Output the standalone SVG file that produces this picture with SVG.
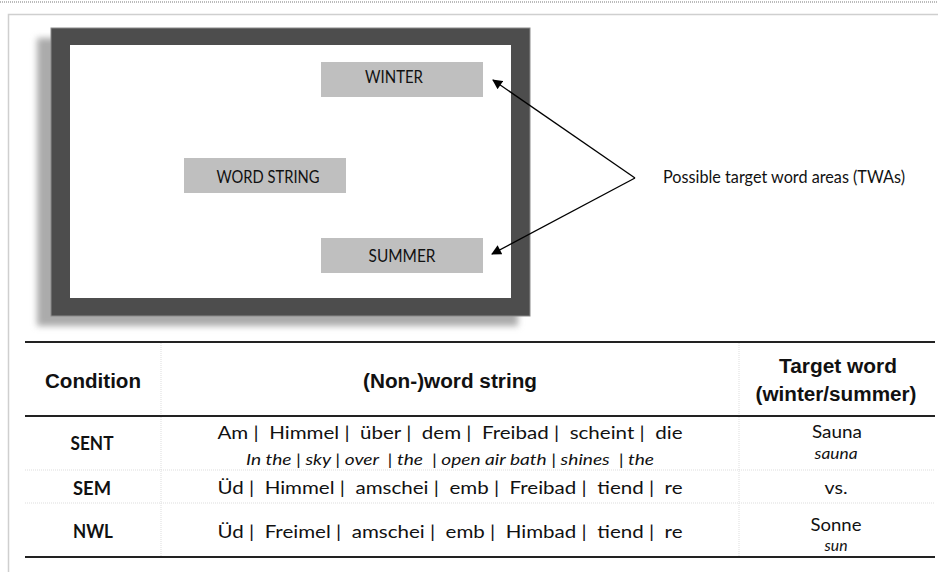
<svg xmlns="http://www.w3.org/2000/svg" width="938" height="572" viewBox="0 0 938 572">
  <style>
    .cal { font-family: Lato, "Open Sans", sans-serif; fill: #111; }
    .box { fill: #bfbfbf; }
    .lbl { font-size: 17px; text-anchor: middle; }
    .hdr { font-family: "Liberation Sans", Arial, sans-serif; font-weight: bold; font-size: 19.5px; fill: #111; text-anchor: middle; }
    .cond { font-weight: bold; font-size: 18px; text-anchor: middle; }
    .row { font-size: 18px; text-anchor: middle; }
    .tr { font-size: 16px; font-style: italic; text-anchor: middle; }
    .tw { font-size: 17.5px; text-anchor: middle; }
    .twi { font-size: 15.5px; font-style: italic; text-anchor: middle; }
    .rule { stroke: #222; stroke-width: 2.2; }
    .thin { stroke: #ddd; stroke-width: 1; stroke-dasharray: 1 1; }
    .conn { stroke: #000; stroke-width: 1.3; fill: none; }
  </style>
  <defs>
    <marker id="arrow" viewBox="0 0 10 10" refX="9" refY="5" markerWidth="11" markerHeight="10" markerUnits="userSpaceOnUse" orient="auto">
      <path d="M0,0 L10,5 L0,10 z" fill="#000"/>
    </marker>
    <filter id="shadow" x="-10%" y="-10%" width="120%" height="120%">
      <feGaussianBlur stdDeviation="3"/>
    </filter>
  </defs>

  <rect width="938" height="572" fill="#fff"/>
  <!-- page edge -->
  <line x1="0" y1="2" x2="938" y2="2" stroke="#bbb" stroke-width="2" stroke-dasharray="1 1"/>
  <path d="M8.5,580 V14.5 H940" fill="none" stroke="#cfcfcf" stroke-width="1.5"/>

  <!-- screen frame -->
  <g id="screen">
    <rect x="37" y="38" width="481" height="288" fill="#ababab" filter="url(#shadow)"/>
    <rect x="51" y="28" width="479" height="288" fill="#4d4d4d" stroke="#8a8a8a" stroke-width="1"/>
    <rect x="70" y="45" width="441" height="253" fill="#fff"/>
  </g>

  <g id="winter">
    <rect class="box" x="321" y="62" width="162" height="35"/>
    <text class="cal lbl" x="394" y="83" textLength="58" lengthAdjust="spacingAndGlyphs">WINTER</text>
  </g>
  <g id="word-string">
    <rect class="box" x="184" y="158" width="162" height="35"/>
    <text class="cal lbl" x="268" y="183" textLength="103" lengthAdjust="spacingAndGlyphs">WORD STRING</text>
  </g>
  <g id="summer">
    <rect class="box" x="321" y="238" width="162" height="35"/>
    <text class="cal lbl" x="402" y="262" textLength="67" lengthAdjust="spacingAndGlyphs">SUMMER</text>
  </g>

  <g id="twa-label">
    <text class="cal" x="663" y="183" font-size="16.5" textLength="242" lengthAdjust="spacingAndGlyphs">Possible target word areas (TWAs)</text>
  </g>

  <g id="connectors">
    <path class="conn" d="M635,178 L493,80" marker-end="url(#arrow)"/>
    <path class="conn" d="M635,178 L492,254" marker-end="url(#arrow)"/>
  </g>

  <!-- conditions table -->
  <g id="table">
    <line class="thin" x1="161" y1="343" x2="161" y2="556"/>
    <line class="thin" x1="739" y1="343" x2="739" y2="556"/>
    <line class="thin" x1="25" y1="470" x2="935" y2="470"/>
    <line class="thin" x1="25" y1="503" x2="935" y2="503"/>
    <line class="rule" x1="25" y1="342" x2="935" y2="342"/>
    <line class="rule" x1="25" y1="416" x2="935" y2="416"/>
    <line class="rule" x1="25" y1="557" x2="935" y2="557"/>

    <text class="hdr" x="93" y="388" textLength="96" lengthAdjust="spacingAndGlyphs">Condition</text>
    <text class="hdr" x="450" y="388" textLength="174" lengthAdjust="spacingAndGlyphs">(Non-)word string</text>
    <text class="hdr" x="838" y="373" textLength="118" lengthAdjust="spacingAndGlyphs">Target word</text>
    <text class="hdr" x="836" y="401" textLength="161" lengthAdjust="spacingAndGlyphs">(winter/summer)</text>

    <text class="cal cond" x="92" y="450" textLength="43" lengthAdjust="spacingAndGlyphs">SENT</text>
    <text class="cal cond" x="92" y="495" textLength="38" lengthAdjust="spacingAndGlyphs">SEM</text>
    <text class="cal cond" x="93" y="538" textLength="40" lengthAdjust="spacingAndGlyphs">NWL</text>

    <text class="cal row" x="450" y="439" xml:space="preserve" textLength="465" lengthAdjust="spacingAndGlyphs">Am |  Himmel |  über |  dem |  Freibad |  scheint |  die</text>
    <text class="cal tr" x="450" y="465" xml:space="preserve" textLength="408" lengthAdjust="spacingAndGlyphs">In the | sky | over  | the  | open air bath | shines  | the</text>
    <text class="cal row" x="450" y="494" xml:space="preserve" textLength="465" lengthAdjust="spacingAndGlyphs">Üd |  Himmel |  amschei |  emb |  Freibad |  tiend |  re</text>
    <text class="cal row" x="450" y="538" xml:space="preserve" textLength="465" lengthAdjust="spacingAndGlyphs">Üd |  Freimel |  amschei |  emb |  Himbad |  tiend |  re</text>

    <text class="cal tw" x="837" y="438" textLength="50" lengthAdjust="spacingAndGlyphs">Sauna</text>
    <text class="cal twi" x="836" y="459" textLength="43" lengthAdjust="spacingAndGlyphs">sauna</text>
    <text class="cal tw" x="836" y="494" textLength="23" lengthAdjust="spacingAndGlyphs">vs.</text>
    <text class="cal tw" x="836" y="531" textLength="51" lengthAdjust="spacingAndGlyphs">Sonne</text>
    <text class="cal twi" x="836" y="551" textLength="23" lengthAdjust="spacingAndGlyphs">sun</text>
  </g>
</svg>
